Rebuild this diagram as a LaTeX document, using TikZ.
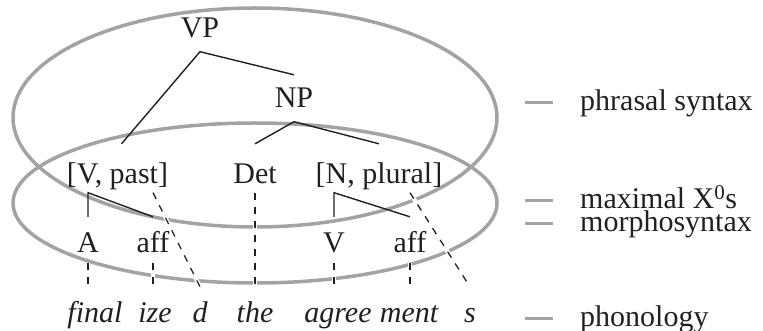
\documentclass[tikz,border=0pt]{standalone}
\usepackage{fontspec}
\setmainfont{Liberation Serif}
\usetikzlibrary{calc}
\definecolor{ringgray}{RGB}{163,163,163}
\definecolor{inkblack}{RGB}{35,31,32}

\begin{document}
\begin{tikzpicture}[x=1pt,y=-1pt,
  every node/.style={inner sep=0pt,text=inkblack,font=\fontsize{30}{36}\selectfont},
  phr/.style={anchor=base,text height=33pt,text depth=13.5pt},
  xzero/.style={anchor=base,text height=40pt,text depth=8.5pt},
  morph/.style={anchor=base,text height=35pt,text depth=11pt},
  phon/.style={anchor=base,text height=35pt,text depth=0pt,font=\fontsize{30}{36}\selectfont\itshape},
  ring/.style={draw=ringgray,line width=3.5pt},
  branch/.style={draw=inkblack,line width=1.4pt},
  assoc/.style={draw=inkblack,line width=1.3pt,dash pattern=on 7pt off 7pt,
    preaction={draw=white,line width=4pt,solid}},
  levelbar/.style={draw=ringgray,line width=3pt},
  level/.style={anchor=base west}]
  \useasboundingbox (0,0) rectangle (763,331);

  % the two domains: phrasal syntax (upper) and morphosyntax (lower)
  \draw[ring] (255,117.5) ellipse [x radius=242,y radius=109.5];
  \draw[ring] (255,203) ellipse [x radius=242,y radius=80];

  % phrase level
  \node[phr] (vp) at (200,38) {VP};
  \node[phr] (np) at (294,108) {NP};
  % maximal X0s
  \node[xzero] (vpast) at (117.5,184) {[V, past]};
  \node[xzero] (det) at (255,184) {Det};
  \node[xzero] (nplural) at (379,184) {[N, plural]};
  % morphemes
  \node[morph] (a) at (88,252) {A};
  \node[morph] (aff1) at (153,252) {aff};
  \node[morph] (v) at (334,252) {V};
  \node[morph] (aff2) at (410,252) {aff};
  % phonological pieces
  \node[phon] (final) at (95,322) {final};
  \node[phon] (ize) at (155,322) {ize};
  \node[phon] (d) at (200,322) {d};
  \node[phon] (the) at (255,322) {the};
  \node[phon] (agree) at (338,322) {agree};
  \node[phon] (ment) at (409,322) {ment};
  \node[phon] (s) at (470,322) {s};

  % association lines to the phonology
  \draw[assoc] (aff1.north |- vpast.south) -- (d.north);
  \draw[assoc] (det.south) -- (the.north);
  \draw[assoc] (aff2.north |- nplural.south) -- (s.north);
  \foreach \m/\p in {a/final,aff1/ize,v/agree,aff2/ment}
    \draw[assoc] (\m.south) -- (\m.south |- \p.north);

  % tree branches
  \draw[branch] ([xshift=4pt]vpast.north) -- (vp.south) -- (np.north);
  \draw[branch] (det.north) -- (np.south) -- (nplural.north);
  \draw[branch] (a.north) -- (a.north |- vpast.south) -- (aff1.north);
  \draw[branch] (v.north) -- (v.north |- nplural.south) -- (aff2.north);

  % levels on the right
  \node[level] (psyn) at (580,111) {phrasal syntax};
  \node[level] (maxx) at (580,209) {maximal X\textsuperscript{0}s};
  \node[level] (msyn) at (580,232) {morphosyntax};
  \node[level] (phono) at (580,326) {phonology};
  \foreach \l in {psyn,maxx,msyn,phono}
    \draw[levelbar] ([shift={(-55,-8)}]\l.base west) -- ++(28,0);
\end{tikzpicture}
\end{document}
